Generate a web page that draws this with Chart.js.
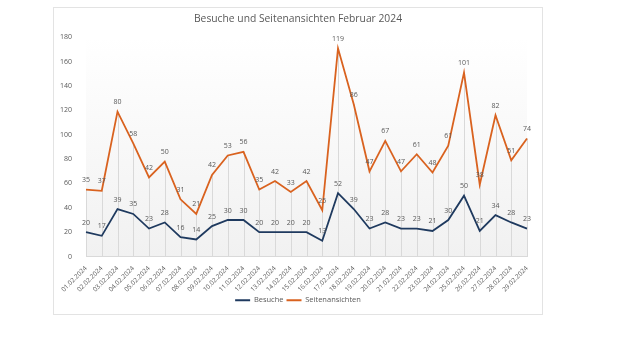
<!DOCTYPE html>
<html>
<head>
<meta charset="utf-8">
<script src="https://cdn.jsdelivr.net/npm/chart.js@4/dist/chart.umd.min.js"></script>
<style>
    body { margin: 0; background: #ffffff; }
    .frame {
        position: absolute;
        left: 53px;
        top: 7px;
        width: 488px;
        height: 306px;
        border: 1px solid #e3e3e3;
        background: #ffffff;
    }
    canvas { display: block; }
</style>
</head>
<body>
<div class="frame">
    <canvas id="chart" width="488" height="306"></canvas>
</div>
<script>
// Chart data
const days = [
    "01.02.2024", "02.02.2024", "03.02.2024", "04.02.2024", "05.02.2024", "06.02.2024",
    "07.02.2024", "08.02.2024", "09.02.2024", "10.02.2024", "11.02.2024", "12.02.2024",
    "13.02.2024", "14.02.2024", "15.02.2024", "16.02.2024", "17.02.2024", "18.02.2024",
    "19.02.2024", "20.02.2024", "21.02.2024", "22.02.2024", "23.02.2024", "24.02.2024",
    "25.02.2024", "26.02.2024", "27.02.2024", "28.02.2024", "29.02.2024"
];
const besuche = [20, 17, 39, 35, 23, 28, 16, 14, 25, 30, 30, 20, 20, 20, 20, 13, 52, 39, 23, 28, 23, 23, 21, 30, 50, 21, 34, 28, 23];
const seitenansichten = [35, 37, 80, 58, 42, 50, 31, 21, 42, 53, 56, 35, 42, 33, 42, 25, 119, 86, 47, 67, 47, 61, 48, 61, 101, 38, 82, 51, 74];
const yTicks = { min: 0, max: 180, step: 20 };

const textColor = "#595959";
const fontFamily = "'Open Sans', 'Liberation Sans', sans-serif";

// Light shading behind the plot area
const plotBackground = {
    id: "plotBackground",
    beforeDraw(chart) {
        const { ctx, chartArea } = chart;
        const grad = ctx.createLinearGradient(0, chartArea.top, 0, chartArea.bottom);
        grad.addColorStop(0, "#ffffff");
        grad.addColorStop(1, "#f1f1f1");
        ctx.save();
        ctx.fillStyle = grad;
        ctx.fillRect(chartArea.left, chartArea.top, chartArea.right - chartArea.left, chartArea.bottom - chartArea.top);
        ctx.restore();
    }
};

// Drop lines from the top series down to the axis
const dropLines = {
    id: "dropLines",
    beforeDatasetsDraw(chart) {
        const { ctx, chartArea } = chart;
        const meta = chart.getDatasetMeta(1);
        ctx.save();
        ctx.strokeStyle = "#d9d9d9";
        ctx.lineWidth = 1;
        meta.data.forEach((pt) => {
            const x = Math.round(pt.x) + 0.5;
            ctx.beginPath();
            ctx.moveTo(x, pt.y);
            ctx.lineTo(x, chartArea.bottom);
            ctx.stroke();
        });
        ctx.restore();
    }
};

// Value labels above each point
const valueLabels = {
    id: "valueLabels",
    afterDatasetsDraw(chart) {
        const { ctx } = chart;
        ctx.save();
        ctx.font = "7px " + fontFamily;
        ctx.fillStyle = textColor;
        ctx.textAlign = "center";
        ctx.textBaseline = "bottom";
        chart.data.datasets.forEach((ds, i) => {
            const meta = chart.getDatasetMeta(i);
            meta.data.forEach((pt, j) => {
                ctx.fillText(ds.data[j], pt.x, pt.y - 6);
            });
        });
        ctx.restore();
    }
};

const ctx = document.getElementById("chart").getContext("2d");
new Chart(ctx, {
    type: "line",
    data: {
        labels: days,
        datasets: [
            {
                label: "Besuche",
                data: besuche,
                borderColor: "#1f3a5f",
                backgroundColor: "#1f3a5f",
                borderWidth: 1.8,
                pointRadius: 0,
                fill: false,
                tension: 0
            },
            {
                label: "Seitenansichten",
                data: seitenansichten,
                borderColor: "#d9621f",
                backgroundColor: "#d9621f",
                borderWidth: 1.8,
                pointRadius: 0,
                fill: false,
                tension: 0
            }
        ]
    },
    options: {
        responsive: false,
        animation: false,
        layout: { padding: { left: 0, right: 0, top: 0, bottom: 0 } },
        plugins: {
            title: {
                display: true,
                text: "Besuche und Seitenansichten Februar 2024",
                color: textColor,
                font: { family: fontFamily, size: 10.3, weight: "normal" },
                padding: { top: 5, bottom: 12 }
            },
            legend: {
                position: "bottom",
                labels: {
                    color: textColor,
                    font: { family: fontFamily, size: 7.5 },
                    usePointStyle: true,
                    pointStyle: "line",
                    pointStyleWidth: 15,
                    boxHeight: 2,
                    padding: 3
                }
            },
            tooltip: { enabled: false }
        },
        scales: {
            x: {
                grid: { display: false },
                border: { color: "#d9d9d9" },
                ticks: {
                    color: textColor,
                    font: { family: fontFamily, size: 6.5 },
                    minRotation: 45,
                    maxRotation: 45,
                    autoSkip: false,
                    padding: 0
                }
            },
            y: {
                stacked: true,
                min: yTicks.min,
                max: yTicks.max,
                grid: { display: false },
                border: { display: false },
                ticks: {
                    stepSize: yTicks.step,
                    color: textColor,
                    font: { family: fontFamily, size: 7 },
                    padding: 6
                }
            },
            // empty right margin so the title stays centred on the frame
            yr: {
                position: "right",
                grid: { display: false },
                border: { display: false },
                ticks: { display: false },
                afterFit(scale) { scale.width = 15; }
            }
        }
    },
    plugins: [plotBackground, dropLines, valueLabels]
});
</script>
</body>
</html>
